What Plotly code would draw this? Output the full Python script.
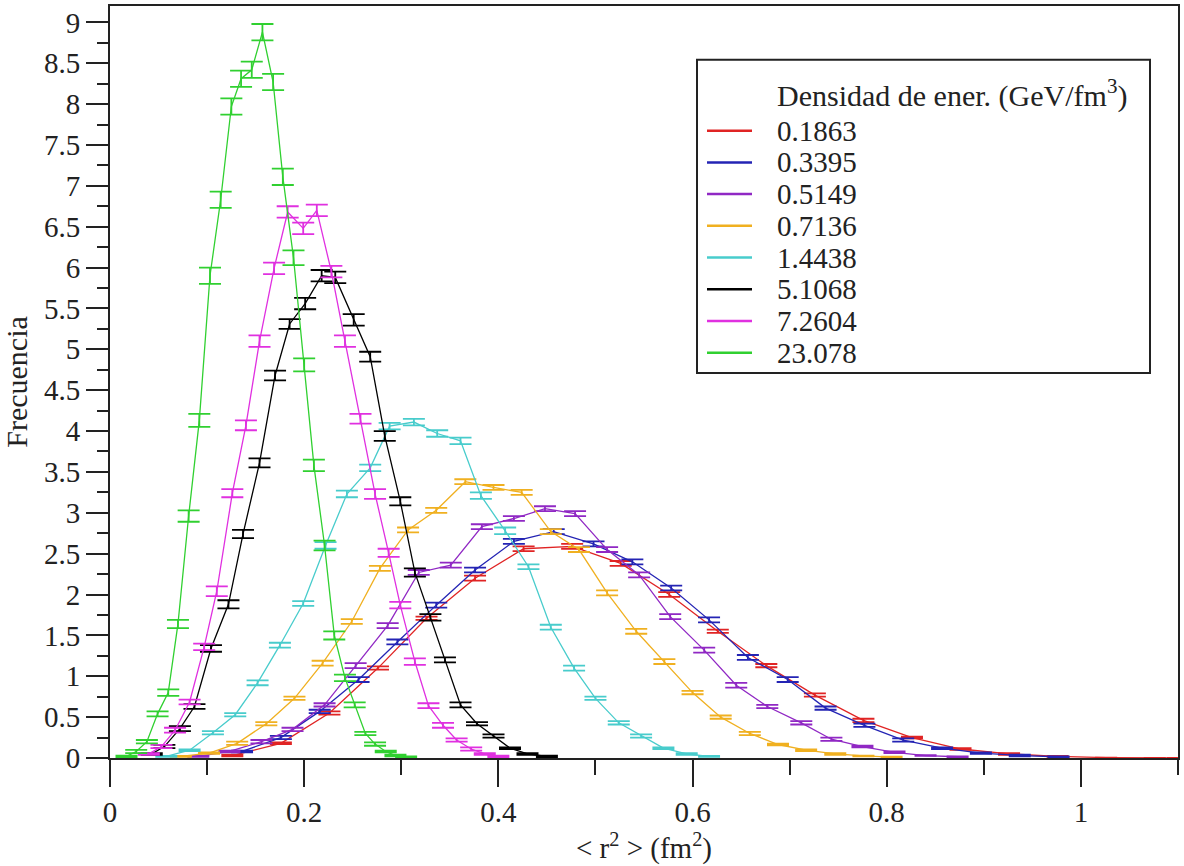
import plotly.graph_objects as go

# ---------------- data ----------------
series_names = ["0.1863", "0.3395", "0.5149", "0.7136", "1.4438", "5.1068", "7.2604", "23.078"]

red_x = [0.126, 0.176, 0.226, 0.276, 0.326, 0.376, 0.426, 0.476, 0.526, 0.576, 0.626, 0.676,
         0.726, 0.776, 0.826, 0.876, 0.926, 0.976, 1.026, 1.076, 1.1]
red_y = [0.03, 0.18, 0.55, 1.10, 1.71, 2.20, 2.56, 2.59, 2.38, 2.00, 1.55, 1.13,
         0.77, 0.46, 0.25, 0.11, 0.05, 0.02, 0.005, 0.0, 0.0]
red_e = [0.01, 0.01, 0.02, 0.02, 0.02, 0.03, 0.03, 0.03, 0.03, 0.03, 0.02, 0.02,
         0.02, 0.02, 0.01, 0.01, 0.01, 0.005, 0.0, 0.0, 0.0]

blue_x = [0.136, 0.176, 0.216, 0.256, 0.296, 0.336, 0.376, 0.416, 0.457, 0.498, 0.538, 0.578,
          0.617, 0.657, 0.698, 0.737, 0.777, 0.817, 0.857, 0.897, 0.937, 0.977]
blue_y = [0.08, 0.25, 0.57, 0.96, 1.42, 1.87, 2.30, 2.65, 2.77, 2.62, 2.40, 2.08,
          1.69, 1.23, 0.96, 0.61, 0.40, 0.22, 0.12, 0.06, 0.03, 0.015]
blue_e = [0.01, 0.02, 0.02, 0.03, 0.03, 0.03, 0.03, 0.03, 0.03, 0.03, 0.03, 0.03,
          0.03, 0.03, 0.03, 0.02, 0.02, 0.02, 0.01, 0.01, 0.01, 0.005]

purple_x = [0.091, 0.123, 0.156, 0.188, 0.221, 0.253, 0.286, 0.318, 0.351, 0.383, 0.416, 0.448,
            0.479, 0.512, 0.545, 0.577, 0.612, 0.645, 0.677, 0.712, 0.743, 0.775, 0.808, 0.840, 0.873]
purple_y = [0.02, 0.08, 0.20, 0.35, 0.65, 1.13, 1.62, 2.27, 2.36, 2.83, 2.93, 3.05,
            2.99, 2.55, 2.24, 1.73, 1.32, 0.89, 0.63, 0.43, 0.23, 0.14, 0.07, 0.03, 0.015]
purple_e = [0.005, 0.01, 0.02, 0.02, 0.02, 0.03, 0.03, 0.03, 0.03, 0.03, 0.03, 0.03,
            0.03, 0.03, 0.03, 0.03, 0.03, 0.03, 0.02, 0.02, 0.02, 0.01, 0.01, 0.005, 0.005]

orange_x = [0.073, 0.102, 0.131, 0.161, 0.190, 0.219, 0.249, 0.278, 0.307, 0.336, 0.366, 0.395,
            0.424, 0.454, 0.483, 0.512, 0.542, 0.571, 0.600, 0.629, 0.659, 0.688, 0.717, 0.747,
            0.776, 0.805]
orange_y = [0.02, 0.06, 0.18, 0.42, 0.73, 1.16, 1.67, 2.32, 2.79, 3.03, 3.38, 3.31,
            3.25, 2.77, 2.55, 2.02, 1.55, 1.18, 0.80, 0.50, 0.30, 0.165, 0.095, 0.05,
            0.025, 0.01]
orange_e = [0.005, 0.01, 0.02, 0.02, 0.02, 0.03, 0.03, 0.03, 0.03, 0.03, 0.03, 0.03,
            0.03, 0.03, 0.03, 0.03, 0.03, 0.03, 0.02, 0.02, 0.02, 0.01, 0.01, 0.01,
            0.005, 0.005]

cyan_x = [0.058, 0.082, 0.106, 0.129, 0.152, 0.175, 0.199, 0.222, 0.244, 0.268, 0.288, 0.313,
          0.337, 0.361, 0.382, 0.407, 0.431, 0.454, 0.478, 0.500, 0.524, 0.547, 0.570, 0.594, 0.617]
cyan_y = [0.02, 0.095, 0.31, 0.53, 0.92, 1.38, 1.89, 2.60, 3.23, 3.55, 4.06, 4.11,
          3.97, 3.88, 3.21, 2.78, 2.34, 1.60, 1.10, 0.73, 0.43, 0.27, 0.12, 0.05, 0.02]
cyan_e = [0.005, 0.01, 0.02, 0.02, 0.03, 0.03, 0.03, 0.04, 0.04, 0.04, 0.04, 0.04,
          0.04, 0.04, 0.04, 0.04, 0.03, 0.03, 0.03, 0.02, 0.02, 0.02, 0.01, 0.01, 0.005]

black_x = [0.043, 0.056, 0.072, 0.087, 0.104, 0.122, 0.137, 0.154, 0.170, 0.185, 0.201, 0.218,
           0.232, 0.251, 0.268, 0.283, 0.299, 0.314, 0.330, 0.345, 0.361, 0.378, 0.395, 0.412,
           0.430, 0.450]
black_y = [0.05, 0.14, 0.36, 0.63, 1.34, 1.88, 2.74, 3.61, 4.68, 5.31, 5.56, 5.90,
           5.88, 5.36, 4.91, 3.94, 3.14, 2.27, 1.72, 1.20, 0.65, 0.42, 0.27, 0.12,
           0.05, 0.02]
black_e = [0.01, 0.02, 0.03, 0.03, 0.04, 0.05, 0.05, 0.055, 0.06, 0.06, 0.07, 0.07,
           0.07, 0.07, 0.06, 0.06, 0.05, 0.05, 0.04, 0.03, 0.03, 0.02, 0.02, 0.01,
           0.01, 0.01]

magenta_x = [0.040, 0.053, 0.067, 0.082, 0.097, 0.110, 0.126, 0.140, 0.154, 0.169, 0.183, 0.199,
             0.213, 0.228, 0.242, 0.258, 0.273, 0.287, 0.299, 0.314, 0.328, 0.343, 0.357, 0.372,
             0.386, 0.400]
magenta_y = [0.05, 0.14, 0.34, 0.685, 1.36, 2.04, 3.24, 4.07, 5.10, 5.99, 6.68, 6.48,
             6.70, 5.95, 5.10, 4.15, 3.23, 2.51, 1.87, 1.18, 0.64, 0.40, 0.22, 0.11,
             0.05, 0.02]
magenta_e = [0.01, 0.02, 0.03, 0.03, 0.04, 0.06, 0.05, 0.06, 0.07, 0.07, 0.07, 0.07,
             0.07, 0.07, 0.07, 0.06, 0.06, 0.05, 0.04, 0.04, 0.03, 0.03, 0.02, 0.02,
             0.01, 0.01]

green_x = [0.017, 0.027, 0.038, 0.049, 0.060, 0.070, 0.081, 0.092, 0.103, 0.114, 0.125, 0.135,
           0.146, 0.157, 0.168, 0.178, 0.189, 0.200, 0.210, 0.221, 0.231, 0.242, 0.252, 0.263,
           0.273, 0.284, 0.294, 0.305]
green_y = [0.02, 0.08, 0.20, 0.54, 0.80, 1.64, 2.96, 4.13, 5.90, 6.83, 7.97, 8.31,
           8.42, 8.88, 8.27, 7.11, 6.12, 4.81, 3.58, 2.60, 1.50, 0.98, 0.65, 0.30,
           0.17, 0.08, 0.03, 0.01]
green_e = [0.01, 0.02, 0.02, 0.03, 0.04, 0.05, 0.07, 0.08, 0.10, 0.10, 0.10, 0.10,
           0.10, 0.10, 0.10, 0.10, 0.09, 0.08, 0.07, 0.06, 0.05, 0.04, 0.03, 0.02,
           0.02, 0.01, 0.01, 0.01]

series_x = [red_x, blue_x, purple_x, orange_x, cyan_x, black_x, magenta_x, green_x]
series_y = [red_y, blue_y, purple_y, orange_y, cyan_y, black_y, magenta_y, green_y]
series_e = [red_e, blue_e, purple_e, orange_e, cyan_e, black_e, magenta_e, green_e]
colors = ["#e02424", "#2424b4", "#9028c4", "#f0b020", "#48cccc", "#000000", "#e030e0", "#30d030"]

legend_title = "Densidad de ener. (GeV/fm<sup>3</sup>)"

FONT = "Liberation Serif, Times New Roman, serif"
INK = "#222222"

# ---------------- layout geometry (pixels of the 1184x866 canvas) ----------------
W, H = 1184, 866
ML, MR, MT, MB = 110, 6, 4, 108
PW, PH = W - ML - MR, H - MT - MB


def px(xpix):
    return (xpix - ML) / PW


def py(ypix):
    return (H - MB - ypix) / PH


fig = go.Figure()

for name, xs, ys, es, c in zip(series_names, series_x, series_y, series_e, colors):
    fig.add_trace(go.Scatter(
        x=xs, y=ys, mode="lines", name=name, showlegend=False,
        line=dict(color=c, width=1.3),
        error_y=dict(type="data", array=es, visible=True, color=c, thickness=1.8, width=11),
    ))

# ---------------- legend box (xmgrace style: tight rows) ----------------
LEG_L, LEG_R, LEG_T, LEG_B = 697, 1150, 58, 372
TEXT_X = 775
TITLE_Y = 92
ROW0, ROW_STEP = 129, 31.8
LINE_X0, LINE_X1 = 707, 752

shapes = [dict(type="rect", xref="paper", yref="paper",
               x0=px(LEG_L), x1=px(LEG_R), y0=py(LEG_B), y1=py(LEG_T),
               line=dict(color=INK, width=2), fillcolor="white", layer="above")]
annotations = [dict(xref="paper", yref="paper", x=px(TEXT_X), y=py(TITLE_Y),
                    xanchor="left", yanchor="middle", showarrow=False, text=legend_title,
                    font=dict(family=FONT, size=30, color=INK))]
for i, (name, c) in enumerate(zip(series_names, colors)):
    yrow = ROW0 + i * ROW_STEP
    shapes.append(dict(type="line", xref="paper", yref="paper",
                       x0=px(LINE_X0), x1=px(LINE_X1), y0=py(yrow), y1=py(yrow),
                       line=dict(color=c, width=2.5), layer="above"))
    annotations.append(dict(xref="paper", yref="paper", x=px(TEXT_X), y=py(yrow),
                            xanchor="left", yanchor="middle", showarrow=False, text=name,
                            font=dict(family=FONT, size=29, color=INK)))

axis_common = dict(
    showline=True, linecolor=INK, linewidth=2, mirror=True,
    ticks="outside", tickcolor=INK, tickwidth=2,
    showgrid=False, zeroline=False,
    tickfont=dict(family=FONT, size=29, color=INK),
)

fig.update_layout(
    width=W, height=H,
    margin=dict(l=ML, r=MR, t=MT, b=MB),
    paper_bgcolor="white", plot_bgcolor="white",
    font=dict(family=FONT, color=INK),
    showlegend=False,
    shapes=shapes,
    annotations=annotations,
    xaxis=dict(
        range=[0, 1.1], dtick=0.2, tick0=0, ticklen=27,
        minor=dict(dtick=0.1, tick0=0, ticks="outside", ticklen=15, tickwidth=2, tickcolor=INK),
        title=dict(text="&lt; r<sup>2</sup> &gt; (fm<sup>2</sup>)", standoff=4,
                   font=dict(family=FONT, size=29, color=INK)),
        **axis_common,
    ),
    yaxis=dict(
        range=[0, 9.2], dtick=0.5, tick0=0, ticklen=22,
        minor=dict(dtick=0.25, tick0=0, ticks="outside", ticklen=11, tickwidth=2, tickcolor=INK),
        title=dict(text="Frecuencia", standoff=8,
                   font=dict(family=FONT, size=30, color=INK)),
        **axis_common,
    ),
)

fig.write_html("out.html")
